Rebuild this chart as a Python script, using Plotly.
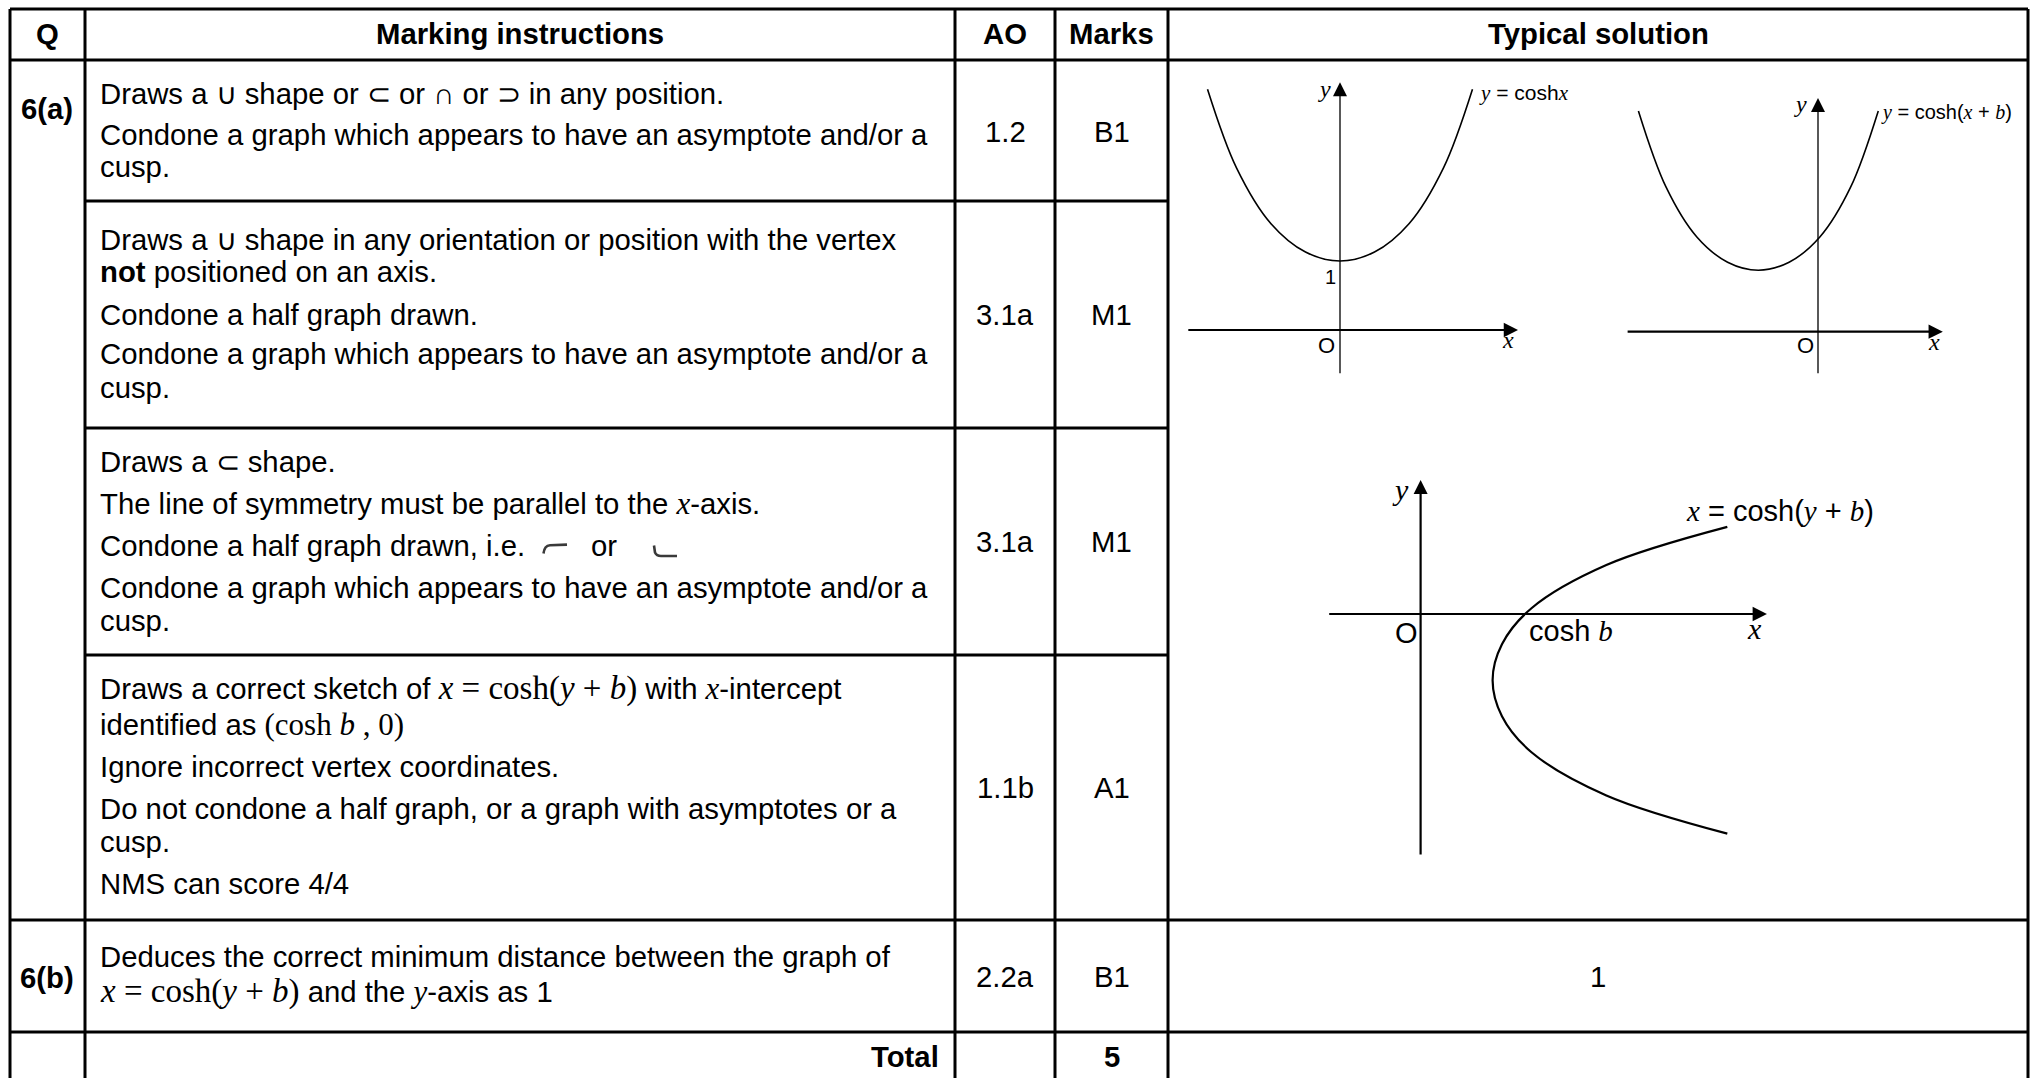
import plotly.graph_objects as go

W, H = 2033, 1078
SANS = "Liberation Sans, Arial, sans-serif"
SERIF = "Liberation Serif, Times New Roman, serif"
FS = 29.3


def m(s, size=33):
    return f'<span style="font-family:{SERIF};font-size:{size}px">{s}</span>'


def mi(s, size=33):
    return f'<span style="font-family:{SERIF};font-size:{size}px"><i>{s}</i></span>'


COSH_EXPR = mi("x") + m(" = cosh(") + mi("y") + m(" + ") + mi("b") + m(")")

# table content
HEADERS = ["Q", "Marking instructions", "AO", "Marks", "Typical solution"]
QUESTIONS = ["6(a)", "6(b)"]
AO_CODES = ["1.2", "3.1a", "3.1a", "1.1b", "2.2a"]
MARKS = ["B1", "M1", "M1", "A1", "B1"]
TOTAL_LABEL = "Total"
TOTAL_MARKS = "5"
PART_B_ANSWER = "1"

INSTRUCTIONS = [
    ["Draws a ∪ shape or ⊂ or ∩ or ⊃ in any position.",
     "Condone a graph which appears to have an asymptote and/or a",
     "cusp."],
    ["Draws a ∪ shape in any orientation or position with the vertex",
     "<b>not</b> positioned on an axis.",
     "Condone a half graph drawn.",
     "Condone a graph which appears to have an asymptote and/or a",
     "cusp."],
    ["Draws a ⊂ shape.",
     "The line of symmetry must be parallel to the " + mi("x", 31) + "-axis.",
     "Condone a half graph drawn, i.e.",
     "Condone a graph which appears to have an asymptote and/or a",
     "cusp."],
    ["Draws a correct sketch of " + COSH_EXPR + " with " + mi("x", 31) + "-intercept",
     "identified as " + m("(cosh ", 31) + mi("b", 31) + m(" , 0)", 31),
     "Ignore incorrect vertex coordinates.",
     "Do not condone a half graph, or a graph with asymptotes or a",
     "cusp.",
     "NMS can score 4/4"],
    ["Deduces the correct minimum distance between the graph of",
     COSH_EXPR + " and the " + mi("y", 31) + "-axis as 1"],
]
HALF_GRAPH_OR = "or"

# sketch data (in sketch units)
COSH_X = [-1.92, -1.5, -1.0, -0.5, 0.0, 0.5, 1.0, 1.5, 1.92]
COSH_Y = [3.49, 2.35, 1.54, 1.13, 1.0, 1.13, 1.54, 2.35, 3.49]
SHIFT_X = [-2.92, -2.47, -1.97, -1.47, -0.97, -0.47, 0.03, 0.53, 0.98]
SHIFT_Y = [3.59, 2.35, 1.54, 1.13, 1.0, 1.13, 1.54, 2.35, 3.59]
SIDE_X = [4.26, 2.58, 1.54, 1.13, 1.0, 1.13, 1.54, 2.58, 4.26]
SIDE_Y = [-3.05, -2.52, -1.92, -1.42, -0.92, -0.42, 0.08, 0.68, 1.21]

SKETCH_AXES = [  # (x-axis from, to), (y-axis from, to)
    ((-2.22, 2.58), (-0.65, 3.59)),
    ((-3.12, 2.03), (-0.70, 3.80)),
    ((-1.29, 4.81), (-3.36, 1.86)),
]

# layout geometry (pixels)
COL_X = [10, 85, 955, 1055, 1168, 2028]
ROW_Y = [9, 60, 201, 428, 655, 920, 1032, 1100]
TEXT_X = 100
BASELINES = [
    [104, 145, 177],
    [250, 282, 325, 364, 398],
    [472, 514, 556, 598, 631],
    [699, 735, 777, 819, 852, 894],
    [967, 1002],
]
ROW_MID = [142, 325, 552, 798, 987]
SKETCH_GEOM = [  # origin px, unit px, box (left, right, top, bottom)
    ((1340, 330), 69, (1180, 1560, 70, 390)),
    ((1818, 331.7), 61.5, (1610, 2020, 85, 390)),
    ((1420.6, 614), 72, (1310, 1800, 465, 875)),
]


def yc(baseline, size=FS):
    return baseline - 0.35 * size


def text(x, y, s, size=FS, anchor="left", bold=False, family=SANS, xref="x", yref="y"):
    if bold:
        s = f"<b>{s}</b>"
    return dict(x=x, y=y, xref=xref, yref=yref, text=s, showarrow=False,
                xanchor=anchor, yanchor="middle", borderpad=0, borderwidth=0,
                font=dict(family=family, size=size, color="black"))


fig = go.Figure()
annotations = []
shapes = []

# grid lines
LW = 3
def hline(y, x0, x1):
    shapes.append(dict(type="line", x0=x0, x1=x1, y0=y, y1=y, xref="x", yref="y",
                       line=dict(color="black", width=LW)))

def vline(x, y0, y1):
    shapes.append(dict(type="line", x0=x, x1=x, y0=y0, y1=y1, xref="x", yref="y",
                       line=dict(color="black", width=LW)))

for y in [ROW_Y[0], ROW_Y[1], ROW_Y[5], ROW_Y[6]]:
    hline(y, COL_X[0], COL_X[-1])
for y in ROW_Y[2:5]:
    hline(y, COL_X[1], COL_X[4])
for x in COL_X:
    vline(x, ROW_Y[0], ROW_Y[-1])

# header
for i, h in enumerate(HEADERS):
    cx = (COL_X[i] + COL_X[i + 1]) / 2
    annotations.append(text(cx, yc(44), h, anchor="center", bold=True))

annotations.append(text(47, yc(119), QUESTIONS[0], anchor="center", bold=True))
annotations.append(text(47, yc(988), QUESTIONS[1], anchor="center", bold=True))

for lines, bls in zip(INSTRUCTIONS, BASELINES):
    for s, b in zip(lines, bls):
        annotations.append(text(TEXT_X, yc(b), s))
annotations.append(text(591, yc(556), HALF_GRAPH_OR))
# the two small half-graph glyphs
shapes.append(dict(type="path", path="M 543.5 553.5 Q 544.5 545.5 550 545.3 L 567 544.6",
                   xref="x", yref="y", line=dict(color="#3a3a3a", width=2.6)))
shapes.append(dict(type="path", path="M 654 545.5 L 655 552.5 Q 656.5 556 661 556 L 677 556",
                   xref="x", yref="y", line=dict(color="#3a3a3a", width=2.6)))

ao_cx = (COL_X[2] + COL_X[3]) / 2
mk_cx = (COL_X[3] + COL_X[4]) / 2
for a, mk, b in zip(AO_CODES, MARKS, ROW_MID):
    annotations.append(text(ao_cx, yc(b), a, anchor="center"))
    annotations.append(text(mk_cx, yc(b), mk, anchor="center"))

annotations.append(text(939, yc(1067), TOTAL_LABEL, anchor="right", bold=True))
annotations.append(text(mk_cx, yc(1067), TOTAL_MARKS, anchor="center", bold=True))
annotations.append(text((COL_X[4] + COL_X[5]) / 2, yc(987), PART_B_ANSWER, anchor="center"))

# sketches
layout_axes = {}
curves = [(COSH_X, COSH_Y, 1.6), (SHIFT_X, SHIFT_Y, 1.6), (SIDE_X, SIDE_Y, 2.2)]
for k, ((origin, unit, box), (xs, ys, lw), (xa, ya)) in enumerate(zip(SKETCH_GEOM, curves, SKETCH_AXES)):
    n = k + 2
    ox, oy = origin
    x0, x1, y0, y1 = box
    layout_axes[f"xaxis{n}"] = dict(domain=[x0 / W, x1 / W], range=[(x0 - ox) / unit, (x1 - ox) / unit],
                                    visible=False, fixedrange=True, anchor=f"y{n}")
    layout_axes[f"yaxis{n}"] = dict(domain=[1 - y1 / H, 1 - y0 / H], range=[(oy - y1) / unit, (oy - y0) / unit],
                                    visible=False, fixedrange=True, anchor=f"x{n}")
    fig.add_trace(go.Scatter(x=xs, y=ys, mode="lines", xaxis=f"x{n}", yaxis=f"y{n}",
                             line=dict(color="black", width=lw, shape="spline", smoothing=1.0),
                             hoverinfo="skip"))
    # axes with arrows
    vw = 1.3 if k < 2 else 2.2
    annotations.append(dict(x=xa[1], y=0, ax=xa[0], ay=0, xref=f"x{n}", yref=f"y{n}",
                            axref=f"x{n}", ayref=f"y{n}", text="", showarrow=True,
                            arrowhead=2, arrowsize=1.3, arrowwidth=2.2, arrowcolor="black", standoff=0))
    annotations.append(dict(x=0, y=ya[1], ax=0, ay=ya[0], xref=f"x{n}", yref=f"y{n}",
                            axref=f"x{n}", ayref=f"y{n}", text="", showarrow=True,
                            arrowhead=2, arrowsize=2.8 / vw, arrowwidth=vw, arrowcolor="black", standoff=0))


# sketch labels (positioned by visual centre of the glyphs)
def lab(n, x, y, s, size, anchor="center", shift=0.0):
    unit = SKETCH_GEOM[n - 2][1]
    annotations.append(text(x, y + shift * size / unit, s, size=size, anchor=anchor,
                            xref=f"x{n}", yref=f"y{n}"))


def li(s, size):
    return f'<span style="font-family:{SERIF}"><i>{s}</i></span>'


lab(2, -0.23, 3.45, li("y", 24), 24, shift=0.12)
lab(2, 2.01, 3.43, li("y", 21) + " = cosh" + li("x", 21), 21, anchor="left", shift=0.03)
lab(2, -0.14, 0.77, "1", 20)
lab(2, -0.19, -0.22, "O", 22)
lab(2, 2.43, -0.19, li("x", 24), 24, shift=0.12)

lab(3, -0.29, 3.66, li("y", 24), 24, shift=0.12)
lab(3, 1.03, 3.56, li("y", 20) + " = cosh(" + li("x", 20) + " + " + li("b", 20) + ")", 20,
    anchor="left", shift=0.03)
lab(3, -0.20, -0.22, "O", 22)
lab(3, 1.88, -0.22, li("x", 24), 24, shift=0.12)

lab(4, -0.28, 1.68, li("y", 30), 30, shift=0.12)
lab(4, 3.69, 1.42, li("x", 29) + " = cosh(" + li("y", 29) + " + " + li("b", 29) + ")", 29,
    anchor="left", shift=0.03)
lab(4, -0.20, -0.26, "O", 29)
lab(4, 1.51, -0.25, "cosh " + li("b", 29), 29, anchor="left", shift=0.03)
lab(4, 4.64, -0.25, li("x", 30), 30, shift=0.12)

fig.update_layout(
    width=W, height=H, margin=dict(l=0, r=0, t=0, b=0),
    paper_bgcolor="white", plot_bgcolor="rgba(0,0,0,0)", showlegend=False,
    xaxis=dict(range=[0, W], domain=[0, 1], visible=False, fixedrange=True),
    yaxis=dict(range=[H, 0], domain=[0, 1], visible=False, fixedrange=True),
    annotations=annotations, shapes=shapes,
    font=dict(family=SANS, color="black"),
    **layout_axes,
)

# the page body has a default margin; drop it so the figure sits at the window origin
fig.write_html("out.html", config={"displayModeBar": False},
               post_script="document.body.style.margin='0';document.body.style.overflow='hidden';")
